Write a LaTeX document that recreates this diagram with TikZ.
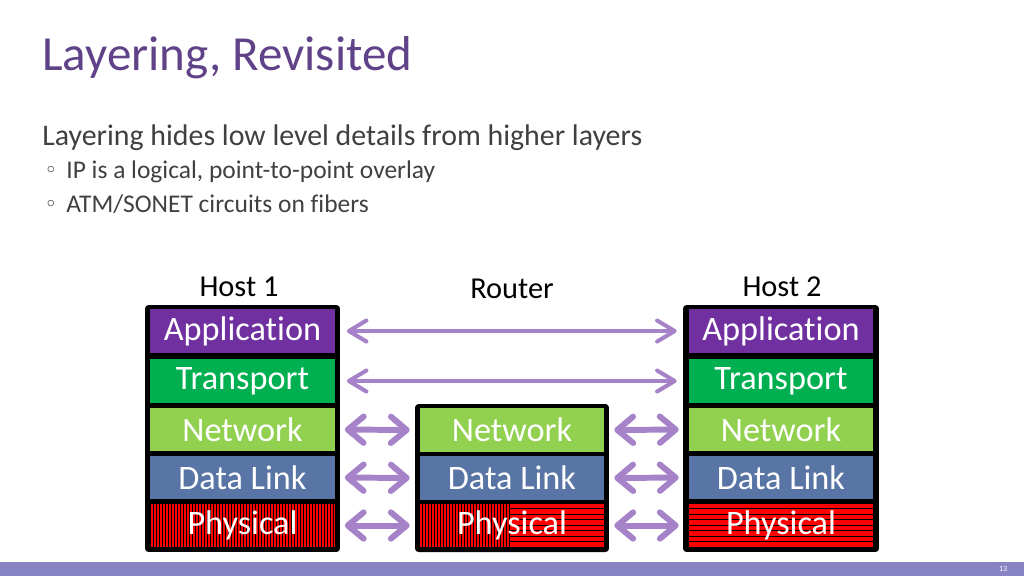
\documentclass[tikz,border=0pt]{standalone}
\usepackage{fontspec}
\setmainfont{Carlito}[Ligatures={NoCommon}]
\usetikzlibrary{arrows.meta, positioning}

\definecolor{titlec}{RGB}{96,66,136}
\definecolor{textc}{RGB}{64,64,64}
\definecolor{appc}{RGB}{112,48,160}
\definecolor{transc}{RGB}{0,176,80}
\definecolor{netc}{RGB}{146,208,80}
\definecolor{linkc}{RGB}{88,117,165}
\definecolor{physc}{RGB}{255,0,0}
\definecolor{arrowc}{RGB}{166,130,200}
\definecolor{barc}{RGB}{136,132,196}

\begin{document}
\begin{tikzpicture}[x=0.02cm, y=-0.02cm,
  stack/.style={rectangle, fill=black, rounded corners=2pt, inner sep=0pt},
  layer/.style={rectangle, minimum width=3.7cm, minimum height=0.87cm, inner sep=0pt,
    text=white, font=\fontsize{19.5}{19.5}\selectfont},
  vstripes/.style={path picture={
    \foreach \k in {0,...,62}
      \draw[black, line width=0.35pt] ([xshift=\k*0.06cm]path picture bounding box.south west)
        -- ([xshift=\k*0.06cm]path picture bounding box.north west);}},
  hstripes/.style={path picture={
    \foreach \k in {0,...,8}
      \draw[black, line width=0.5pt] ([yshift=\k*0.11cm]path picture bounding box.south west)
        -- ([yshift=\k*0.11cm]path picture bounding box.south east);}},
  mixstripes/.style={path picture={
    \foreach \k in {0,...,30}
      \draw[black, line width=0.35pt] ([xshift=\k*0.06cm]path picture bounding box.south west)
        -- ([xshift=\k*0.06cm]path picture bounding box.north west);
    \foreach \k in {0,...,8}
      \draw[black, line width=0.5pt] ([xshift=1.8cm, yshift=\k*0.11cm]path picture bounding box.south west)
        -- ([yshift=\k*0.11cm]path picture bounding box.south east);}},
  hostlabel/.style={anchor=base, inner sep=0pt, font=\fontsize{17.3}{17.3}\selectfont},
  longarrow/.style={draw=arrowc, line width=2.3pt, shorten <=0.23cm, shorten >=0.23cm,
    {Straight Barb[length=10pt, width=12pt, round]}-{Straight Barb[length=10pt, width=12pt, round]}},
  shortarrow/.style={draw=arrowc, line width=3.4pt, shorten <=0.19cm, shorten >=0.19cm,
    {Straight Barb[length=9pt, width=15pt, round]}-{Straight Barb[length=9pt, width=15pt, round]}}]
\useasboundingbox (0,0) rectangle (1024,576);

% slide text
\node[anchor=base west, inner sep=0pt, text=titlec, font=\fontsize{27.9}{27.9}\selectfont]
  (title) at (42,70) {Layering, Revisited};
\node[anchor=base west, inner sep=0pt, text=textc, font=\fontsize{17}{17}\selectfont]
  (point) at (42,145) {Layering hides low level details from higher layers};
\node[anchor=base west, inner sep=0pt, text=textc, font=\fontsize{14.5}{14.5}\selectfont]
  (sub1) at (66,178) {IP is a logical, point-to-point overlay};
\node[anchor=base west, inner sep=0pt, text=textc, font=\fontsize{14.5}{14.5}\selectfont]
  (sub2) at (66,212) {ATM/SONET circuits on fibers};
\node[inner sep=0pt, text=textc, font=\fontsize{9}{9}\selectfont] (dot1) at (51,170) {$\circ$};
\node[inner sep=0pt, text=textc, font=\fontsize{9}{9}\selectfont] (dot2) at (51,204) {$\circ$};

% stacks
\node[stack, minimum width=3.9cm, minimum height=4.94cm] (host1) at (242.5,428.5) {};
\node[stack, minimum width=3.88cm, minimum height=2.96cm] (router) at (512,478) {};
\node[stack, minimum width=3.92cm, minimum height=4.94cm] (host2) at (781,428.5) {};

\node[hostlabel] (h1lbl) at (239,296) {Host 1};
\node[hostlabel] (rlbl) at (512,298) {Router};
\node[hostlabel] (h2lbl) at (782,296) {Host 2};

% host 1
\node[layer, fill=appc] (app1) at (242.5,331) {Application};
\node[layer, fill=transc] (trans1) at (242.5,381) {Transport};
\node[layer, fill=netc] (net1) at (242.5,429.5) {Network};
\node[layer, fill=linkc] (link1) at (242.5,477.5) {Data Link};
\node[layer, fill=physc, vstripes] (phys1) at (242.5,525.5) {Physical};

% router
\node[layer, fill=netc] (netr) at (512,430) {Network};
\node[layer, fill=linkc] (linkr) at (512,478) {Data Link};
\node[layer, fill=physc, mixstripes] (physr) at (512,525.5) {Physical};

% host 2
\node[layer, fill=appc] (app2) at (781,331) {Application};
\node[layer, fill=transc] (trans2) at (781,381) {Transport};
\node[layer, fill=netc] (net2) at (781,429.5) {Network};
\node[layer, fill=linkc] (link2) at (781,477.5) {Data Link};
\node[layer, fill=physc, hstripes] (phys2) at (781,525.5) {Physical};

% peer arrows
\draw[longarrow] (app1.east) -- (app2.west);
\draw[longarrow] (trans1.east) -- (trans2.west);
\draw[shortarrow] (net1.east) -- (netr.west);
\draw[shortarrow] (link1.east) -- (linkr.west);
\draw[shortarrow] (phys1.east) -- (physr.west);
\draw[shortarrow] (netr.east) -- (net2.west);
\draw[shortarrow] (linkr.east) -- (link2.west);
\draw[shortarrow] (physr.east) -- (phys2.west);

% footer
\fill[barc] (0,562) rectangle (1024,576);
\node[inner sep=0pt, text=white, font=\fontsize{4.5}{4.5}\selectfont] (pagenum) at (1003,569) {13};
\end{tikzpicture}
\end{document}
